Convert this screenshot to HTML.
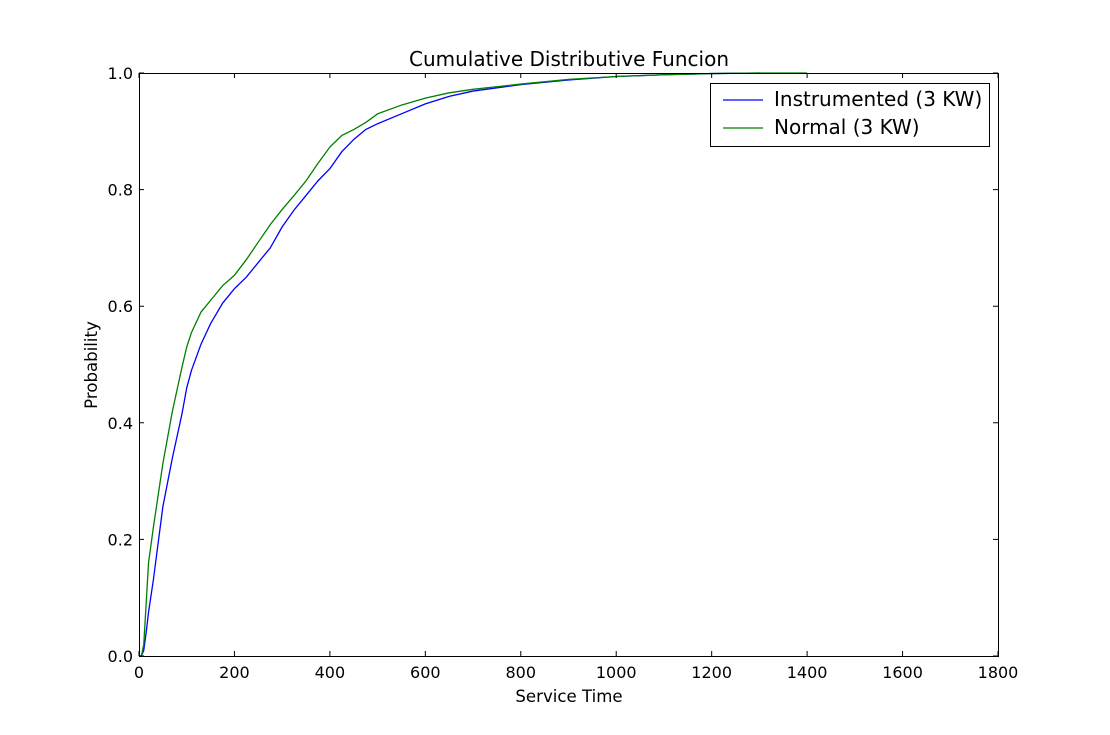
<!DOCTYPE html>
<html><head><meta charset="utf-8"><style>
body{margin:0;background:#fff;}
svg text{font-family:"DejaVu Sans","Liberation Sans",sans-serif;fill:#000;}
</style></head><body>
<svg id="chart" width="1110" height="730" xmlns="http://www.w3.org/2000/svg">
<rect width="1110" height="730" fill="#fff"/>
<text x="569" y="66" font-size="20" text-anchor="middle">Cumulative Distributive Funcion</text>
<g id="plot"></g>
<text x="569" y="702" font-size="16.6" text-anchor="middle">Service Time</text>
<text x="97" y="365" font-size="16.6" text-anchor="middle" transform="rotate(-90 97 365)">Probability</text>
<g>
<rect x="710.5" y="83.5" width="279" height="63" fill="#fff" stroke="#000"/>
<line x1="723" y1="100" x2="763" y2="100" stroke="#0000ff" stroke-width="1.3"/>
<text x="774" y="106" font-size="20">Instrumented (3 KW)</text>
<line x1="723" y1="128" x2="763" y2="128" stroke="#008000" stroke-width="1.3"/>
<text x="774" y="134" font-size="20">Normal (3 KW)</text>
</g>
</svg>
<script>
const xTicks=[0,200,400,600,800,1000,1200,1400,1600,1800];
const yTicks=[0.0,0.2,0.4,0.6,0.8,1.0];
const instX=[0,5,10,15,20,30,50,70,90,100,110,130,150,175,200,225,250,275,300,325,350,375,400,425,450,475,500,550,600,650,700,800,900,1000,1100,1200,1300];
const instY=[0,0,0.01,0.04,0.075,0.13,0.256,0.34,0.415,0.46,0.49,0.535,0.57,0.605,0.63,0.65,0.675,0.70,0.736,0.765,0.79,0.815,0.836,0.865,0.886,0.903,0.913,0.93,0.947,0.96,0.969,0.98,0.988,0.994,0.997,0.999,1.0];
const normX=[0,5,10,15,20,30,50,70,90,100,110,130,150,175,200,225,250,275,300,325,350,375,400,425,450,475,500,550,600,650,700,800,900,1000,1100,1200,1300,1400];
const normY=[0,0,0.02,0.09,0.16,0.22,0.33,0.42,0.495,0.53,0.555,0.59,0.61,0.635,0.653,0.68,0.71,0.74,0.766,0.79,0.815,0.845,0.873,0.893,0.903,0.915,0.93,0.945,0.957,0.966,0.972,0.981,0.989,0.994,0.997,0.999,1.0,1.0];
const L=139,R=998,T=73,B=656;
const sx=v=>L+v/1800*(R-L);
const sy=p=>B-p*(B-T);
const NS="http://www.w3.org/2000/svg";
const g=document.getElementById('plot');
function mk(tag,attrs){const e=document.createElementNS(NS,tag);for(const k in attrs)e.setAttribute(k,attrs[k]);g.appendChild(e);return e;}
function pathFor(xs,ys){return xs.map((x,i)=>(i?'L':'M')+sx(x).toFixed(2)+' '+sy(ys[i]).toFixed(2)).join(' ');}
let p1=mk('path',{d:pathFor(instX,instY),fill:'none',stroke:'#0000ff','stroke-width':1.3});


let p2=mk('path',{d:pathFor(normX,normY),fill:'none',stroke:'#008000','stroke-width':1.3});


let fr=mk('rect',{x:L+0.5,y:T+0.5,width:R-L,height:B-T,fill:'none',stroke:'#000','stroke-width':1});


xTicks.forEach(v=>{
  const x=sx(v);
  let t=mk('path',{d:`M${x} ${B} v-5 M${x} ${T} v5`,stroke:'#000','stroke-width':1});
  
  
  let l=mk('text',{x:x,y:B+22,'font-size':16,'text-anchor':'middle'});
  l.textContent=v;
  
  
});
yTicks.forEach(v=>{
  const y=sy(v);
  let t=mk('path',{d:`M${L} ${y} h5 M${R} ${y} h-5`,stroke:'#000','stroke-width':1});
  
  
  let l=mk('text',{x:L-6,y:y+6,'font-size':16,'text-anchor':'end'});
  l.textContent=v.toFixed(1);
  
  
});
</script>
</body></html>
